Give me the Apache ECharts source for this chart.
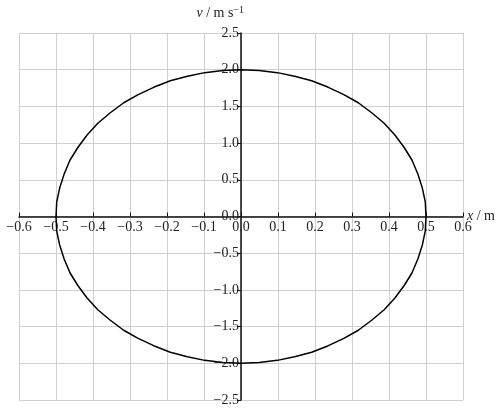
<!DOCTYPE html>
<html>
<head>
<meta charset="utf-8">
<script src="https://cdn.jsdelivr.net/npm/echarts@6/dist/echarts.min.js"></script>
<style>
  html, body { margin: 0; padding: 0; background: #fff; }
  #main { width: 500px; height: 410px; }
</style>
</head>
<body>
<div id="main"></div>
<script>
// points, going round anticlockwise from (0.5, 0)
var curveX = [0.500, 0.498, 0.490, 0.478, 0.462, 0.441, 0.416, 0.387, 0.354, 0.317, 0.278, 0.236, 0.191, 0.145, 0.098, 0.049, 0.000,
              -0.049, -0.098, -0.145, -0.191, -0.236, -0.278, -0.317, -0.354, -0.387, -0.416, -0.441, -0.462, -0.478, -0.490, -0.498, -0.500,
              -0.498, -0.490, -0.478, -0.462, -0.441, -0.416, -0.387, -0.354, -0.317, -0.278, -0.236, -0.191, -0.145, -0.098, -0.049, 0.000,
              0.049, 0.098, 0.145, 0.191, 0.236, 0.278, 0.317, 0.354, 0.387, 0.416, 0.441, 0.462, 0.478, 0.490, 0.498, 0.500];
var curveV = [0.00, 0.20, 0.39, 0.58, 0.77, 0.94, 1.11, 1.27, 1.41, 1.55, 1.66, 1.76, 1.85, 1.91, 1.96, 1.99, 2.00,
              1.99, 1.96, 1.91, 1.85, 1.76, 1.66, 1.55, 1.41, 1.27, 1.11, 0.94, 0.77, 0.58, 0.39, 0.20, 0.00,
              -0.20, -0.39, -0.58, -0.77, -0.94, -1.11, -1.27, -1.41, -1.55, -1.66, -1.76, -1.85, -1.91, -1.96, -1.99, -2.00,
              -1.99, -1.96, -1.91, -1.85, -1.76, -1.66, -1.55, -1.41, -1.27, -1.11, -0.94, -0.77, -0.58, -0.39, -0.20, 0.00];

var xMin = -0.6, xMax = 0.6, xStep = 0.1;
var vMin = -2.5, vMax = 2.5, vStep = 0.5;

var font = 'Liberation Serif';
var gridLeft = 19, gridRight = 37, gridTop = 33, gridBottom = 10;
var W = 500, H = 410;

function fmt(v) {
    return (v < 0 ? '\u2212' : '') + Math.abs(v).toFixed(1);
}

var pts = [];
for (var i = 0; i < curveX.length; i++) {
    pts.push([curveX[i], curveV[i]]);
}

// the axes cross at the origin, so shift them in from the grid edges
var plotW = W - gridLeft - gridRight, plotH = H - gridTop - gridBottom;
var yShift = plotW * (0 - xMin) / (xMax - xMin);
var xShift = plotH * (0 - vMin) / (vMax - vMin);

var myChart = echarts.init(document.getElementById('main'));

var option = {
    animation: false,
    textStyle: { fontFamily: font },
    grid: { left: gridLeft, right: gridRight, top: gridTop, bottom: gridBottom, outerBoundsMode: 'none', containLabel: false },
    xAxis: {
        type: 'value',
        position: 'bottom',
        offset: -xShift,
        min: xMin, max: xMax, interval: xStep,
        axisLine: { onZero: false, lineStyle: { color: '#111', width: 1.5 } },
        axisTick: { inside: true, length: 4, lineStyle: { color: '#111' } },
        axisLabel: { formatter: fmt, fontFamily: font, fontSize: 14, color: '#222', margin: 4, showMinLabel: true, showMaxLabel: true },
        splitLine: { lineStyle: { color: '#cfcfcf', width: 1 } },
        name: '{i|x} / m',
        nameLocation: 'end',
        nameGap: 4,
        nameMoveOverlap: false,
        nameTextStyle: {
            fontFamily: font, fontSize: 14, color: '#222',
            rich: { i: { fontFamily: font, fontSize: 14, fontStyle: 'italic', color: '#222' } }
        }
    },
    yAxis: {
        type: 'value',
        position: 'left',
        offset: -yShift,
        min: vMin, max: vMax, interval: vStep,
        axisLine: { onZero: false, lineStyle: { color: '#111', width: 1.5 } },
        axisTick: { inside: false, length: 4, lineStyle: { color: '#111' } },
        axisLabel: { formatter: fmt, fontFamily: font, fontSize: 14, color: '#222', margin: 2, showMinLabel: true, showMaxLabel: true },
        splitLine: { lineStyle: { color: '#cfcfcf', width: 1 } },
        name: '{i|v} / m s{s|\u22121}',
        nameLocation: 'end',
        nameGap: 12,
        nameMoveOverlap: false,
        nameTextStyle: {
            fontFamily: font, fontSize: 14, color: '#222', align: 'right', padding: [0, -3, 0, 0],
            rich: {
                i: { fontFamily: font, fontSize: 14, fontStyle: 'italic', color: '#222' },
                s: { fontFamily: font, fontSize: 10, color: '#222', verticalAlign: 'top', padding: [0, 0, 6, 0] }
            }
        }
    },
    series: [{
        type: 'line',
        data: pts,
        showSymbol: false,
        smooth: false,
        lineStyle: { color: '#000', width: 1.5 }
    }]
};

myChart.setOption(option);
</script>
</body>
</html>
